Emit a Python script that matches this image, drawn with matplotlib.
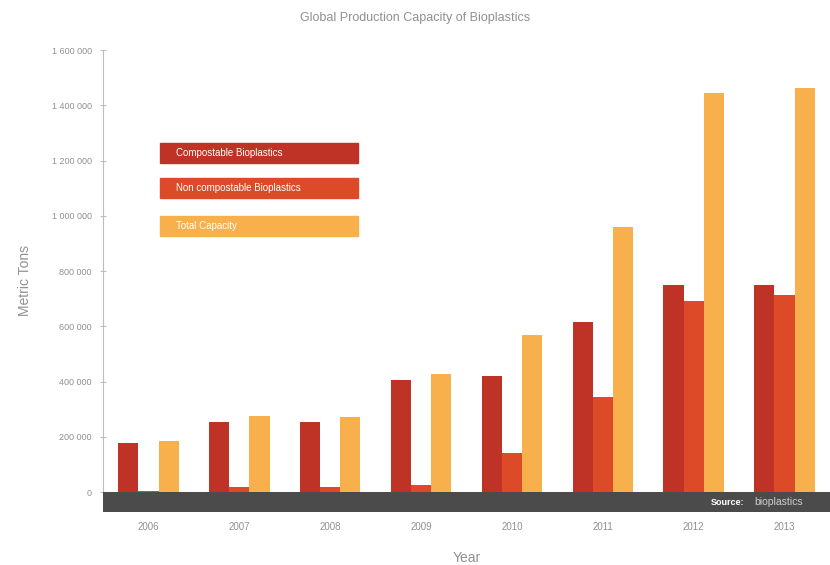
import numpy as np
import matplotlib.pyplot as plt
from matplotlib.patches import Rectangle
from matplotlib.ticker import FuncFormatter

# Capacidad global de producción de bioplásticos (toneladas métricas)
years = ['2006', '2007', '2008', '2009', '2010', '2011', '2012', '2013']
compostable = [179000, 255000, 255000, 404000, 422000, 617000, 748000, 748000]
non_compostable = [5000, 20000, 20000, 24000, 143000, 346000, 693000, 715000]
total = [186000, 277000, 273000, 429000, 567000, 961000, 1446000, 1464000]
series_names = ['Compostable Bioplastics', 'Non compostable Bioplastics', 'Total Capacity']

c_comp = '#bf3226'
c_non = '#dd4a27'
c_tot = '#f7b04c'
c_band = '#4b4b4b'
gris = '#909090'

plt.rcParams['font.family'] = ['Liberation Sans', 'DejaVu Sans']

fig = plt.figure(figsize=(8.3, 5.65), dpi=100)
# ejes en pixeles: izquierda 103, derecha 830, abajo 512, arriba 50
ax = fig.add_axes([103 / 830, (565 - 512) / 565, 727 / 830, 462 / 565])

x = np.arange(len(years))
w = 0.222
ax.bar(x - w, compostable, w, color=c_comp, zorder=2)
ax.bar(x, non_compostable, w, color=c_non, zorder=2)
ax.bar(x + w, total, w, color=c_tot, zorder=2)

# franja oscura en la base
ax.set_ylim(-72000, 1600000)
ax.set_xlim(-0.5, 7.5)
ax.axhspan(-72000, 0, color=c_band, zorder=3, lw=0)
ax.text(6.56, -36000, 'Source:', color='white', fontsize=6.5, fontweight='bold',
        ha='right', va='center', zorder=4)
ax.text(6.67, -36000, 'bioplastics', color='#cfcfcf', fontsize=7.5,
        ha='left', va='center', zorder=4)

for s in ['top', 'right', 'bottom']:
    ax.spines[s].set_visible(False)
ax.spines['left'].set_color('#bdbdbd')
ax.spines['left'].set_linewidth(0.8)
ax.spines['left'].set_bounds(0, 1600000)

ax.set_yticks(np.arange(0, 1600001, 200000))
ax.yaxis.set_major_formatter(FuncFormatter(lambda v, p: f'{int(v):,}'.replace(',', ' ')))
ax.tick_params(axis='y', colors='#bdbdbd', labelcolor=gris, labelsize=6.5,
               length=4, width=0.8, direction='inout', pad=6)
ax.set_xticks(x)
ax.set_xticklabels(years)
ax.tick_params(axis='x', length=0, labelcolor=gris, labelsize=7, pad=7)

ax.set_ylabel('Metric Tons', color=gris, fontsize=10, labelpad=14)
ax.set_xlabel('Year', color=gris, fontsize=10, labelpad=14)
fig.text(0.5, 1 - 18 / 565, 'Global Production Capacity of Bioplastics',
         ha='center', va='center', color=gris, fontsize=9)

# leyenda: rectángulos de color con texto blanco
cajas = [(143, c_comp), (178, c_non), (216, c_tot)]
for (top_px, col), nombre in zip(cajas, series_names):
    fig.patches.append(Rectangle((160 / 830, 1 - (top_px + 20) / 565), 198 / 830, 20 / 565,
                                 transform=fig.transFigure, color=col, zorder=5))
    fig.text(176 / 830, 1 - (top_px + 10) / 565, nombre, color='white',
             fontsize=7, va='center', ha='left', zorder=6)

fig.savefig('out.png', dpi=100)
